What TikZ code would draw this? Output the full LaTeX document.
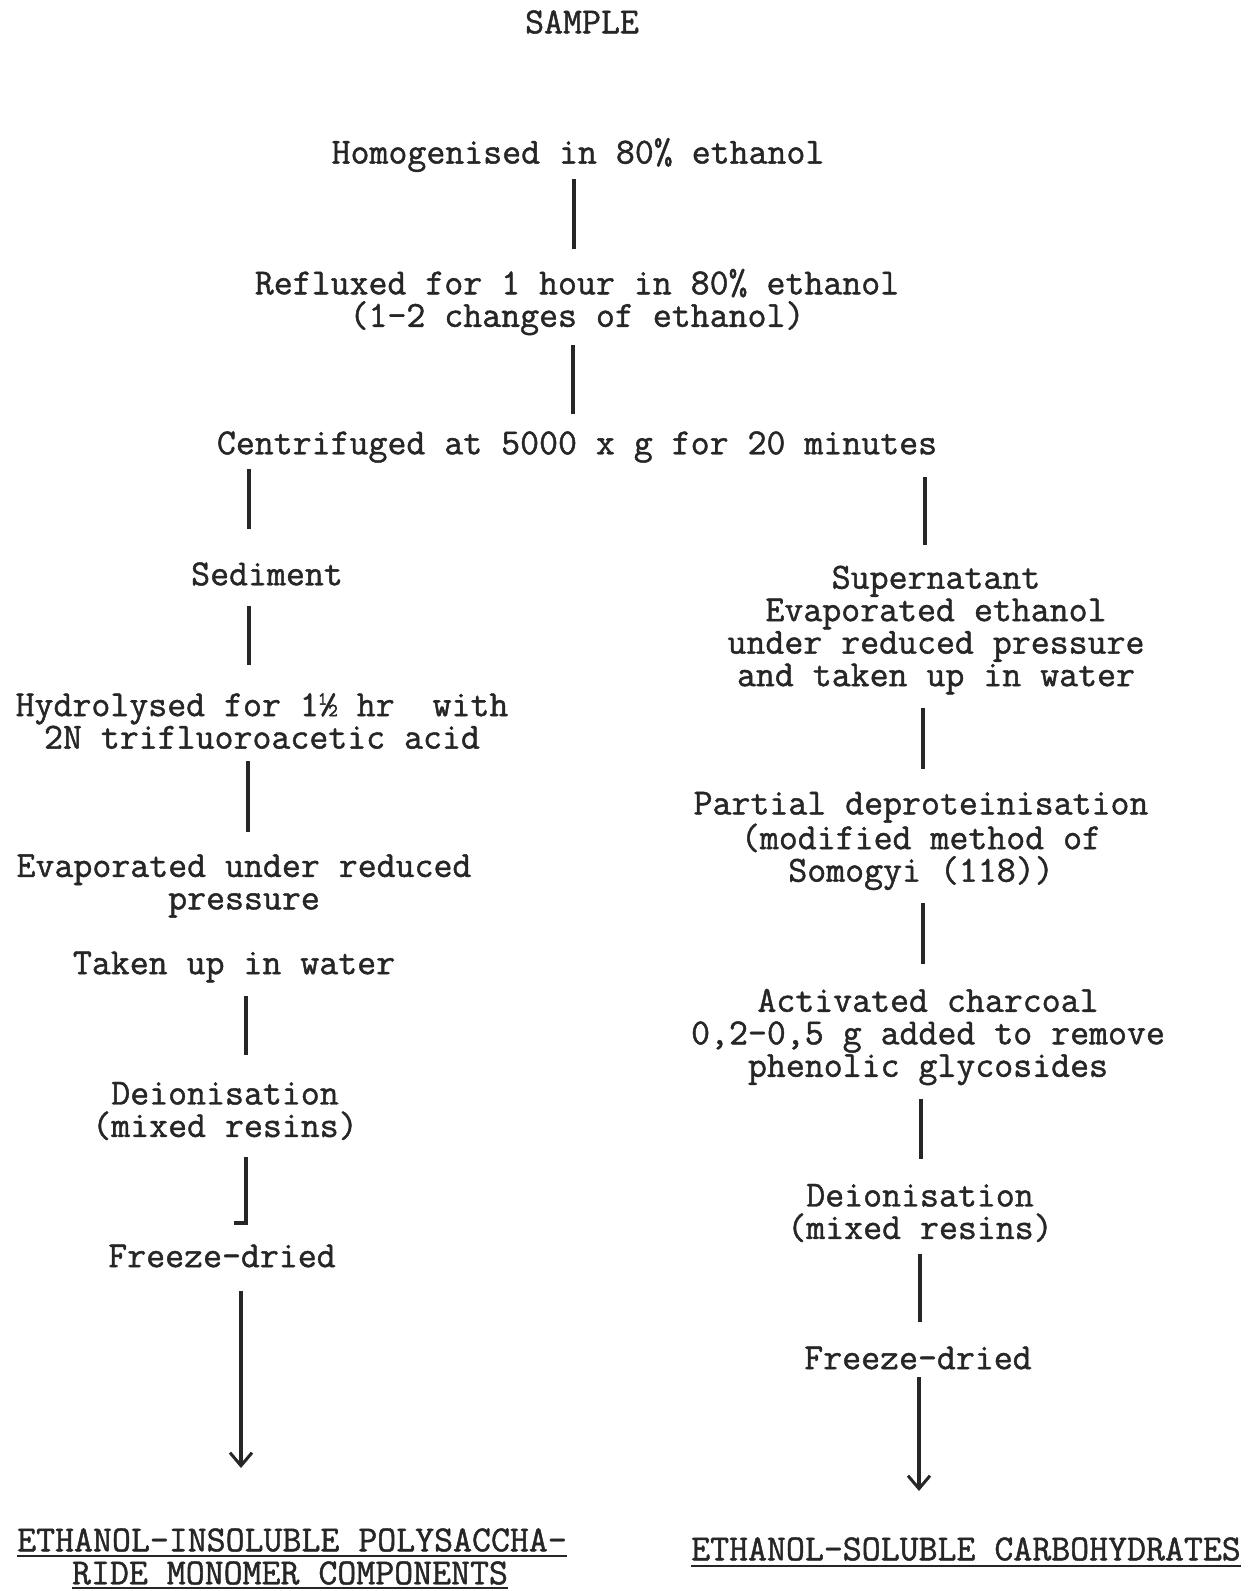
\documentclass[tikz,border=0pt]{standalone}
\usepackage{fontspec}
\setmonofont[FakeBold=1.2]{Latin Modern Mono}
\usetikzlibrary{arrows.meta}
\begin{document}
\begin{tikzpicture}[x=1pt,y=-1pt,
  txt/.style={font=\ttfamily\fontsize{36.8}{32.5}\selectfont, inner sep=0pt, align=center, text=black!85},
  conn/.style={line width=3.2pt, draw=black!85},
  arr/.style={conn, -{Straight Barb[length=13pt,width=22pt,line width=3pt]}},
  uline/.style={line width=2.6pt, draw=black!85}]
\useasboundingbox[fill=white] (0,0) rectangle (1251,1591);
% central column
\node[txt] (sample) at (582,22) {SAMPLE};
\node[txt] (homog) at (578,155) {Homogenised in 80\% ethanol};
\node[txt] (reflux) at (577,302) {Refluxed for 1 hour in 80\% ethanol\\(1-2 changes of ethanol)};
\node[txt] (centr) at (577,447) {Centrifuged at 5000 x g for 20 minutes};
% left column
\node[txt] (sed) at (267,574) {Sediment};
\node[txt] (hydro) at (262,721) {Hydrolysed for 1\textonehalf{} hr~~with\\2N trifluoroacetic acid};
\node[txt] (evap) at (244,886) {Evaporated under reduced\\pressure};
\node[txt] (taken) at (234,967) {Taken up in water};
\node[txt] (deionL) at (225,1111) {Deionisation\\(mixed resins)};
\node[txt] (freezeL) at (222,1256) {Freeze-dried};
\node[txt] (labL1) at (292,1540) {ETHANOL-INSOLUBLE POLYSACCHA-};
\node[txt] (labL2) at (290,1573) {RIDE MONOMER COMPONENTS};
% right column
\node[txt] (super) at (936,630) {Supernatant\\Evaporated ethanol\\under reduced pressure\\and taken up in water};
\node[txt] (partial) at (921,841) {Partial deproteinisation\\(modified method of\\Somogyi (118))};
\node[txt] (activ) at (928,1037) {Activated charcoal\\0,2-0,5 g added to remove\\phenolic glycosides};
\node[txt] (deionR) at (920,1213) {Deionisation\\(mixed resins)};
\node[txt] (freezeR) at (918,1358) {Freeze-dried};
\node[txt] (labR) at (966,1549) {ETHANOL-SOLUBLE CARBOHYDRATES};
% connector end points
\coordinate (c1a) at (574,179); \coordinate (c1b) at (574,249);
\coordinate (c2a) at (573,345); \coordinate (c2b) at (573,414);
\coordinate (c3a) at (249,469); \coordinate (c3b) at (249,529);
\coordinate (c4a) at (925,477); \coordinate (c4b) at (925,545);
\coordinate (c5a) at (249,606); \coordinate (c5b) at (249,665);
\coordinate (c6a) at (248,761); \coordinate (c6b) at (248,832);
\coordinate (c7a) at (246,996); \coordinate (c7b) at (246,1055);
\coordinate (c8a) at (246,1157); \coordinate (c8b) at (246,1223); \coordinate (c8c) at (234,1223);
\coordinate (c9a) at (241,1291); \coordinate (c9b) at (241,1468);
\coordinate (r1a) at (923,708); \coordinate (r1b) at (923,769);
\coordinate (r2a) at (923,903); \coordinate (r2b) at (923,964);
\coordinate (r3a) at (921,1099); \coordinate (r3b) at (921,1159);
\coordinate (r4a) at (920,1254); \coordinate (r4b) at (920,1322);
\coordinate (r5a) at (919,1377); \coordinate (r5b) at (919,1491);
% connectors
\draw[conn] (c1a) -- (c1b);
\draw[conn] (c2a) -- (c2b);
\draw[conn] (c3a) -- (c3b);
\draw[conn] (c4a) -- (c4b);
\draw[conn] (c5a) -- (c5b);
\draw[conn] (c6a) -- (c6b);
\draw[conn] (c7a) -- (c7b);
\draw[conn] (c8a) -- (c8b) -- (c8c);
\draw[arr] (c9a) -- (c9b);
\draw[conn] (r1a) -- (r1b);
\draw[conn] (r2a) -- (r2b);
\draw[conn] (r3a) -- (r3b);
\draw[conn] (r4a) -- (r4b);
\draw[arr] (r5a) -- (r5b);
% underlines
\draw[uline] ([yshift=-4pt]labL1.south west) -- ([yshift=-4pt]labL1.south east);
\draw[uline] ([yshift=-3pt]labL2.south west) -- ([yshift=-3pt]labL2.south east);
\draw[uline] ([yshift=-5pt]labR.south west) -- ([yshift=-5pt]labR.south east);
\end{tikzpicture}
\end{document}
